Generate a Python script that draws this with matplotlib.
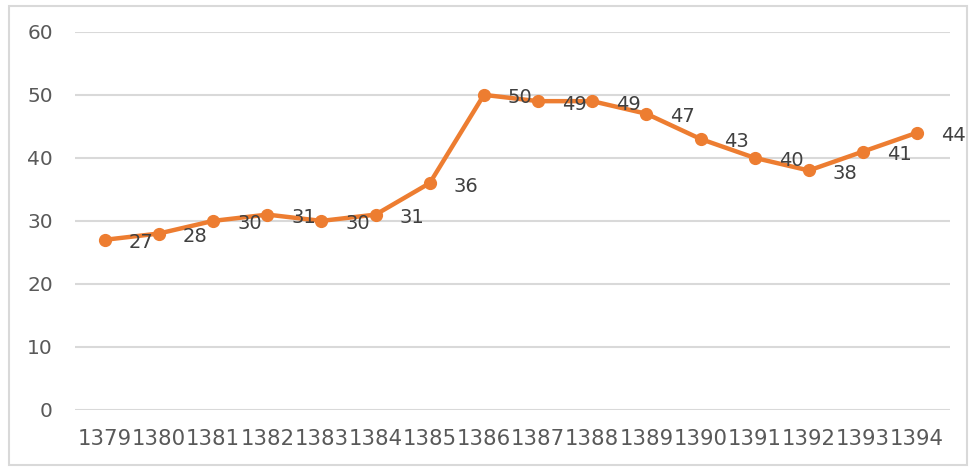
"""Line chart of yearly values, 1379-1394."""
import matplotlib
matplotlib.use("Agg")
import matplotlib.pyplot as plt
from matplotlib.patches import Rectangle

years = ["1379", "1380", "1381", "1382", "1383", "1384", "1385", "1386",
         "1387", "1388", "1389", "1390", "1391", "1392", "1393", "1394"]
values = [27, 28, 30, 31, 30, 31, 36, 50, 49, 49, 47, 43, 40, 38, 41, 44]
y_ticks = [0, 10, 20, 30, 40, 50, 60]

ORANGE = "#ED7D31"
GRID = "#D9D9D9"
TICK_COLOR = "#595959"
LABEL_COLOR = "#404040"

fig = plt.figure(figsize=(9.75, 4.68), dpi=100)
ax = fig.add_axes([0.077, 0.124, 0.897, 0.808])

xs = list(range(len(years)))
ax.plot(xs, values, color=ORANGE, linewidth=3.2, marker="o",
        markersize=8.5, zorder=3)

for x, v in zip(xs, values):
    ax.annotate(str(v), (x, v), xytext=(24, -3), textcoords="offset pixels",
                ha="left", va="center", fontsize=14, color=LABEL_COLOR,
                zorder=4)

ax.set_xlim(-0.55, len(years) - 0.4)
ax.set_ylim(0, 60)
ax.set_yticks(y_ticks)
ax.set_xticks(xs)
ax.set_xticklabels(years)
ax.grid(axis="y", color=GRID, linewidth=1.5)
ax.set_axisbelow(True)
for s in ax.spines.values():
    s.set_visible(False)
ax.tick_params(axis="both", length=0, colors=TICK_COLOR, labelsize=14.5)
ax.tick_params(axis="x", labelsize=15.3)
ax.tick_params(axis="y", pad=16)
ax.tick_params(axis="x", pad=14)

# outer frame of the chart area
fig.patches.append(Rectangle((9 / 975, 3 / 468), 958 / 975, 459 / 468,
                             transform=fig.transFigure, fill=False,
                             edgecolor=GRID, linewidth=1.5))

fig.savefig("out.png", dpi=100)
